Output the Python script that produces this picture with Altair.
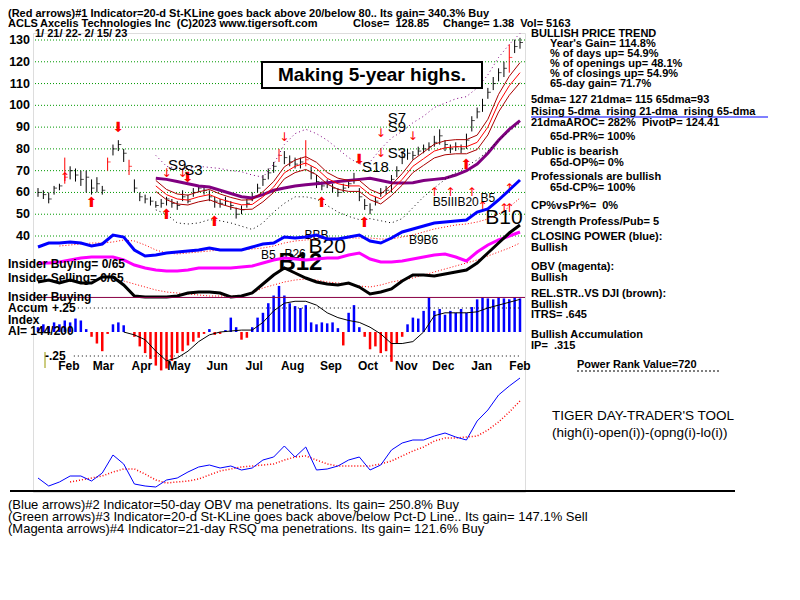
import altair as alt
import pandas as pd

START = pd.Timestamp("2022-01-21")
END = pd.Timestamp("2023-02-15")

# ---------------- price bars (evenly spaced sample of the daily bars) ----------------
close = [60, 59, 57, 62, 63, 67, 70, 68, 66, 67, 62, 64, 61, 74, 80, 82, 78, 72, 62, 58,
         57, 56, 54, 55, 57, 55, 54, 58, 56, 60, 62, 61, 58, 56, 55, 56, 54, 50, 52, 55,
         58, 62, 66, 69, 72, 77, 76, 74, 73, 74, 75, 69, 65, 63, 64, 62, 60, 62, 64, 66,
         58, 54, 52, 56, 60, 61, 66, 70, 76, 78, 77, 79, 80, 81, 83, 86, 82, 80, 81, 80,
         84, 93, 97, 100, 106, 110, 115, 117, 122, 127, 128.85]
high = [62, 61, 60, 63, 64, 76, 72, 71, 70, 70, 66, 67, 63, 76, 82, 84, 80, 75, 66, 60,
        59, 58, 56, 57, 58, 57, 56, 61, 59, 62, 63, 63, 61, 58, 57, 58, 56, 53, 54, 57,
        60, 64, 68, 71, 74, 80, 79, 77, 76, 76, 84, 72, 68, 65, 66, 64, 62, 64, 66, 69,
        62, 57, 55, 58, 62, 63, 68, 72, 79, 80, 79, 81, 82, 83, 86, 89, 84, 82, 83, 82,
        87, 95, 99, 103, 108, 113, 117, 120, 128, 130, 131]
low = [58, 57, 55, 59, 61, 64, 66, 65, 63, 60, 59, 60, 59, 70, 77, 79, 74, 68, 60, 56,
       55, 54, 53, 53, 54, 53, 52, 56, 55, 58, 60, 59, 56, 53, 53, 54, 52, 48, 50, 53,
       56, 60, 63, 66, 69, 74, 73, 72, 71, 71, 72, 66, 62, 61, 62, 60, 58, 60, 62, 64,
       56, 52, 50, 54, 58, 59, 60, 67, 73, 75, 75, 77, 78, 79, 81, 82, 79, 78, 79, 78,
       80, 88, 94, 97, 103, 107, 111, 113, 115, 124, 126]
red_bar_idx = [5, 13, 17, 45, 50, 88]

# ---------------- moving averages (every other bar, from mid-April) ----------------
ma21 = [63, 59, 57, 56.5, 58, 59, 57, 55.5, 54.3, 54.5, 58, 62.5, 69, 72, 73.5, 71, 66.5, 64,
        63, 63, 59, 57, 61, 66, 72, 75.5, 79, 80.5, 81, 81, 83, 90, 101, 109, 115]
ma65 = [66.5, 66, 65, 64, 63, 62.5, 61, 59.5, 58, 57.5, 59, 61, 62, 63, 63.5, 64, 64.5, 65,
        65.5, 66, 66.5, 65.5, 64.5, 64.3, 64.5, 65.5, 66, 66.5, 68, 70, 73, 78, 84, 89, 93]
band_upper = [77, 72, 71, 71, 72, 71.5, 71, 70, 69.5, 68, 67, 73, 82, 87, 89, 87, 84, 80, 76,
              73, 74, 80, 85, 88, 92, 95, 99, 101, 103, 104, 108, 114, 122, 128, 133]
band_lower = [52, 50, 46, 45.5, 46, 47.5, 47, 46, 44.5, 43, 46, 51, 55, 58, 58, 57, 54, 51, 49,
              47.5, 48, 47, 46, 48, 53, 58, 62, 66, 69, 72, 75, 79, 84, 88, 92]

# ---------------- indicators (every other bar) ----------------
closing_power = [3, 7, 7, 8, 7, 4, 6, 15, 13, 0, -6, -5, -3, -2, -1, 0, 2, 0, 0, 0, 3, 6, 7,
                 13, 12, 13, 15, 11, 11, 13, 15, 9, 7, 12, 18, 21, 24, 27, 28, 29, 30, 38, 41,
                 50, 60, 70]
closing_power_ma = [4, 5, 6, 7, 7, 8, 10, 9, 5, 0, -3, -4, -3, -2, -1, 0, 0, 0, 1, 2, 4, 7, 9,
                    10, 11, 12, 12, 12, 12, 12, 11, 11, 13, 15, 18, 21, 23, 25, 26, 28, 31, 36,
                    43, 52]
obv = [12, 12, 13, 15, 17, 18, 18, 18, 15, 10, 7, 5, 4, 4, 5, 7, 7, 7, 7, 8, 9, 12, 15, 17,
       16, 15, 16, 17, 17, 20, 22, 16, 13, 13, 14, 16, 18, 20, 21, 18, 14, 23, 30, 35, 39, 43]
rel_strength = [18, 20, 17, 20, 17, 17, 23, 23, 15, 4, 3, 3, 3, 4, 7, 8, 8, 7, 3, 4, 7, 16,
                25, 32, 27, 22, 18, 16, 15, 17, 13, 6, 8, 11, 19, 25, 25, 24, 26, 28, 30, 37,
                47, 57, 67, 75]
rel_strength_ma = [19, 16, 13, 10, 8, 7, 6, 5, 4, 4, 4, 4, 7, 12, 15, 18, 20, 21, 20, 18, 17,
                   16, 14, 13, 15, 18, 20, 22, 25, 28, 31, 34, 37, 40, 44, 48, 52, 57]
accum_ma = [0.0, -0.03, -0.08, -0.2, -0.3, -0.27, -0.2, -0.1, -0.03, 0.0, 0.01, 0.02, 0.02,
            0.1, 0.22, 0.3, 0.32, 0.32, 0.28, 0.2, 0.15, 0.12, 0.1, 0.05, -0.02, -0.12, -0.12,
            -0.1, 0.0, 0.17, 0.2, 0.2, 0.2, 0.21, 0.25, 0.28, 0.31, 0.34]
day_trader = [14, 6, 10, 16, 16, 11, 19, 37, 28, 8, 6, 5, 12, 14, 20, 25, 27, 24, 26, 22, 24,
              32, 35, 46, 35, 45, 22, 23, 26, 32, 35, 22, 27, 42, 49, 52, 52, 56, 59, 55, 52,
              71, 82, 97, 106, 114]
day_trader_ma = [10, 12, 14, 16, 20, 23, 23, 18, 12, 9, 10, 11, 13, 17, 21, 23, 25, 26, 27, 28,
                 32, 35, 36, 32, 28, 26, 26, 26, 26, 28, 31, 36, 41, 45, 51, 54, 54, 55, 56,
                 62, 70, 80, 91]

# accumulation index (every bar)
accum = [0.05, 0.08, 0.06, 0.10, 0.08, 0.12, 0.10, 0.14, 0.12, 0.03, -0.05, -0.12, -0.20,
         -0.02, 0.08, 0.10, 0.07, 0.00, -0.05, -0.15, -0.22, -0.28, -0.35, -0.40, -0.38,
         -0.30, -0.22, -0.20, -0.14, -0.10, -0.06, -0.02, 0.03, -0.03, -0.02, 0.02, 0.15,
         0.05, -0.08, -0.06, 0.05, 0.15, 0.20, 0.30, 0.38, 0.48, 0.38, 0.30, 0.27, 0.25, 0.28,
         0.10, 0.08, 0.10, 0.09, 0.10, 0.04, -0.14, 0.20, 0.28, 0.05, -0.05, -0.18, -0.15,
         -0.22, -0.20, -0.31, -0.12, -0.05, 0.08, 0.15, 0.14, 0.22, 0.36, 0.22, 0.24, 0.18,
         0.22, 0.20, 0.24, 0.20, 0.26, 0.34, 0.36, 0.35, 0.34, 0.36, 0.35, 0.34, 0.36, 0.35]

price_ticks = [40, 50, 60, 70, 80, 90, 100, 110, 120, 130]
month_names = ["Feb", "Mar", "Apr", "May", "Jun", "Jul", "Aug", "Sep", "Oct", "Nov", "Dec",
               "Jan", "Feb"]
month_mid = ["2022-02-15", "2022-03-15", "2022-04-15", "2022-05-15", "2022-06-15",
             "2022-07-15", "2022-08-15", "2022-09-15", "2022-10-15", "2022-11-15",
             "2022-12-15", "2023-01-15", "2023-02-15"]

# signals: bar index, price level
thick_up_idx, thick_up_px = [10, 24, 33, 53, 61, 80], [55, 49.6, 46.4, 55, 46, 72.6]
thick_dn_idx, thick_dn_px = [15, 28, 60], [89.5, 66.6, 75]
thin_up_idx, thin_up_px = [5, 74, 77, 81, 83, 87, 88, 88], [67, 60, 60, 60, 54, 53, 53, 62]
thin_dn_idx, thin_dn_px = [24, 27, 46, 64, 64, 70], [69, 69, 85.4, 87.2, 78, 86]
sig_small_idx = [26, 29, 63, 67, 67, 67]
sig_small_px = [72.6, 70.3, 71.6, 94, 90, 78]
sig_small_txt = ["S9", "S3", "S18", "S7", "S9", "S3"]
sig_tiny_idx = [78, 84, 43, 48, 52, 72]
sig_tiny_px = [55.6, 57.4, 31.3, 31.7, 40.5, 38.2]
sig_tiny_txt = ["B5IIIB20", "B5", "B5", "B26", "BBB", "B9B6"]
sig_big_idx, sig_big_px, sig_big_txt = [54, 87], [35, 48.3], ["B20", "B10"]
sig_bold_idx, sig_bold_px, sig_bold_txt = [49], [27.6], ["B12"]

header1 = "(Red arrows)#1 Indicator=20-d St-KLine goes back above 20/below 80.. Its gain= 340.3% Buy"
header2 = ["ACLS", "Axcelis Technologies Inc\u00a0 (C)2023 www.tigersoft.com", "Close=\u00a0 128.85",
           "Change= 1.38\u00a0 Vol= 5163"]
header3 = "1/ 21/ 22- 2/ 15/ 23"
side_blocks = [
    (531, 33, ["BULLISH PRICE TREND"], None),
    (550, 43, ["Year's Gain= 114.8%", "% of days up= 54.9%", "% of openings up= 48.1%",
               "% of closings up= 54.9%", "65-day gain= 71.7%"], 10),
    (531, 99, ["5dma= 127 21dma= 115 65dma=93", "Rising 5-dma\u00a0 rising 21-dma\u00a0 rising 65-dma",
               "21dmaAROC= 282%\u00a0 PivotP= 124.41"], 11.5),
    (550, 136, ["65d-PR%= 100%"], None),
    (531, 151, ["Public is bearish"], None),
    (550, 162, ["65d-OP%= 0%"], None),
    (531, 176, ["Professionals are bullish"], None),
    (550, 187, ["65d-CP%= 100%"], None),
    (531, 205, ["CP%vsPr%=\u00a0 0%"], None),
    (531, 221, ["Strength Profess/Pub= 5"], None),
    (531, 236, ["CLOSING POWER (blue):", "Bullish"], 11),
    (531, 266, ["OBV (magenta):", "Bullish"], 10.5),
    (531, 293, ["REL.STR..VS DJI (brown):", "Bullish", "ITRS= .645"], 10.5),
    (531, 334, ["Bullish Accumulation", "IP=\u00a0 .315"], 11),
    (577, 364, ["Power Rank Value=720"], None),
]
left_labels = [(8, 264, "Insider Buying= 0/65"), (8, 278, "Insider Selling= 0/65"),
               (8, 297, "Insider Buying"), (8, 308, "Accum"), (52, 308, "+.25"),
               (8, 320, "Index"), (8, 331, "AI= 144/200"), (45, 356, "-.25")]
footer = ["(Blue arrows)#2 Indicator=50-day OBV ma penetrations. Its gain= 250.8% Buy",
          "(Green arrows)#3 Indicator=20-d St-KLine goes back above/below Pct-D Line.. Its gain= 147.1% Sell",
          "(Magenta arrows)#4 Indicator=21-day RSQ ma penetrations. Its gain= 121.6% Buy"]
tool_title = ["TIGER DAY-TRADER'S TOOL", "(high(i)-open(i))-(opng(i)-lo(i))"]
banner = "Making 5-year highs."

# ---------------- frames ----------------
FONT = "Liberation Sans"

dates = pd.date_range(START, END, periods=len(close))
px = pd.DataFrame({"date": dates, "close": close, "high": high, "low": low})
px["red"] = [i in red_bar_idx for i in range(len(close))]
g = dates[::2]


def pad(vals):
    return [None] * (len(g) - len(vals)) + list(vals)


ind = pd.DataFrame({"date": g, "cp": closing_power, "cp_ma": pad(closing_power_ma), "obv": obv,
                    "rs": rel_strength, "rs_ma": pad(rel_strength_ma), "ai_ma": pad(accum_ma),
                    "dt": day_trader, "dt_ma": pad(day_trader_ma), "ma21": pad(ma21),
                    "ma65": pad(ma65), "bbu": pad(band_upper), "bbl": pad(band_lower)})
ai_df = pd.DataFrame({"date": dates, "ai": accum})


def R(v):  # reference pixel -> plot coordinate
    return v - 33


xscale = alt.Scale(domain=[alt.DateTime(year=2022, month=1, date=21),
                           alt.DateTime(year=2023, month=2, date=15)], nice=False)
X = alt.X("date:T", scale=xscale, axis=None)


def S(d0, d1, r0, r1):
    return alt.Scale(domain=[d0, d1], range=[R(r0), R(r1)], nice=False, zero=False)


PS = S(40, 130, 236, 40)
CPS = S(-10, 80, 260, 170)
OBS = S(0, 50, 275, 225)
RSS = S(0, 100, 300, 200)
AIS = S(-0.5, 0.5, 380, 284)
DTS = S(0, 120, 492, 372)


def Yq(field, scale):
    return alt.Y(field, type="quantitative", scale=scale, axis=None)


layers = []
ticks_df = pd.DataFrame({"p": price_ticks})
layers.append(alt.Chart(ticks_df).mark_rule(color="#009900", strokeWidth=1, strokeDash=[1, 2]).encode(
    y=Yq("p", PS)))
layers.append(alt.Chart(ticks_df).mark_text(align="right", baseline="middle", font=FONT, fontSize=12.5,
                                            fontWeight="bold", color="black").encode(
    x=alt.value(R(30)), y=Yq("p", PS), text="p:Q"))

layers.append(alt.Chart(px).mark_rule(strokeWidth=1).encode(
    x=X, y=Yq("low", PS), y2="high:Q",
    color=alt.condition("datum.red", alt.value("#ff0000"), alt.value("black"))))
layers.append(alt.Chart(px).mark_tick(orient="horizontal", size=3, thickness=1, xOffset=1.5).encode(
    x=X, y=Yq("close", PS),
    color=alt.condition("datum.red", alt.value("#ff0000"), alt.value("black"))))

base_ma = alt.Chart(ind)
layers.append(base_ma.mark_line(color="#800080", strokeWidth=3).encode(x=X, y=Yq("ma65", PS)))
layers.append(base_ma.mark_line(color="#ff0000", strokeWidth=1).encode(x=X, y=Yq("ma21", PS)))
layers.append(base_ma.transform_calculate(u="datum.ma21 == null ? null : datum.ma21 * 1.04").mark_line(
    color="#aa0000", strokeWidth=1).encode(x=X, y=Yq("u", PS)))
layers.append(base_ma.transform_calculate(l="datum.ma21 == null ? null : datum.ma21 * 0.96").mark_line(
    color="#aa0000", strokeWidth=1).encode(x=X, y=Yq("l", PS)))
layers.append(base_ma.mark_line(color="#800080", strokeWidth=1, strokeDash=[1, 3]).encode(x=X, y=Yq("bbu", PS)))
layers.append(base_ma.mark_line(color="black", strokeWidth=1, strokeDash=[1, 3]).encode(x=X, y=Yq("bbl", PS)))


def sig(idx, prices, texts, size, weight="normal", color="black", font=FONT):
    df = pd.DataFrame({"date": [dates[i] for i in idx], "p": prices, "t": texts})
    return alt.Chart(df).mark_text(fontSize=size, fontWeight=weight, color=color, font=font,
                                   baseline="middle", align="center").encode(
        x=X, y=Yq("p", PS), text="t:N")


layers.append(sig(thick_up_idx, thick_up_px, ["\u2b06"] * len(thick_up_idx), 14, color="#ff0000", font="DejaVu Sans"))
layers.append(sig(thick_dn_idx, thick_dn_px, ["\u2b07"] * len(thick_dn_idx), 14, color="#ff0000", font="DejaVu Sans"))
layers.append(sig(thin_up_idx, thin_up_px, ["\u2191"] * len(thin_up_idx), 12, color="#ff0000", font="DejaVu Sans"))
layers.append(sig(thin_dn_idx, thin_dn_px, ["\u2193"] * len(thin_dn_idx), 12, color="#ff0000", font="DejaVu Sans"))
layers.append(sig(sig_small_idx, sig_small_px, sig_small_txt, 15))
layers.append(sig(sig_tiny_idx, sig_tiny_px, sig_tiny_txt, 12))
layers.append(sig(sig_big_idx, sig_big_px, sig_big_txt, 21))
layers.append(sig(sig_bold_idx, sig_bold_px, sig_bold_txt, 24, weight="bold"))

# indicators
layers.append(alt.Chart(ind).mark_line(color="#ff0000", strokeWidth=1, strokeDash=[1, 2]).encode(x=X, y=Yq("cp_ma", CPS)))
layers.append(alt.Chart(ind).mark_line(color="#0000ff", strokeWidth=3).encode(x=X, y=Yq("cp", CPS)))
layers.append(alt.Chart(ind).mark_line(color="#ff00ff", strokeWidth=3).encode(x=X, y=Yq("obv", OBS)))
layers.append(alt.Chart(ind).mark_line(color="#ff0000", strokeWidth=1, strokeDash=[1, 2]).encode(x=X, y=Yq("rs_ma", RSS)))
layers.append(alt.Chart(ind).mark_line(color="black", strokeWidth=3).encode(x=X, y=Yq("rs", RSS)))

# accumulation index
layers.append(alt.Chart(ai_df).mark_bar(size=2.5).encode(
    x=X, y=Yq("ai", AIS), y2=alt.datum(0),
    color=alt.condition("datum.ai > 0", alt.value("#0000ff"), alt.value("#ff0000"))))
layers.append(alt.Chart(ind).mark_line(color="black", strokeWidth=1).encode(x=X, y=Yq("ai_ma", AIS)))
layers.append(alt.Chart(pd.DataFrame({"v": [0.36]})).mark_rule(color="#880044", strokeWidth=1).encode(
    y=Yq("v", AIS)))
layers.append(alt.Chart(pd.DataFrame({"v": [0.25, -0.25], "d0": [pd.Timestamp("2022-02-19")] * 2,
                                      "d1": [END] * 2})).mark_rule(
    color="black", strokeWidth=1, strokeDash=[1, 3]).encode(
    x=alt.X("d0:T", scale=xscale, axis=None), x2="d1:T", y=Yq("v", AIS)))

# day trader tool
layers.append(alt.Chart(ind).mark_line(color="#ff0000", strokeWidth=1.5, strokeDash=[1, 2]).encode(x=X, y=Yq("dt_ma", DTS)))
layers.append(alt.Chart(ind).mark_line(color="#0000ff", strokeWidth=1).encode(x=X, y=Yq("dt", DTS)))

# month labels
months = pd.DataFrame({"date": pd.to_datetime(month_mid), "m": month_names})
layers.append(alt.Chart(months).mark_text(font=FONT, fontSize=12, fontWeight="bold", baseline="middle").encode(
    x=X, y=alt.value(R(366)), text="m:N"))

# annotation rules and box
one = pd.DataFrame({"a": [0]})
layers.append(alt.Chart(one).mark_rule(color="black", strokeWidth=2).encode(
    x=alt.value(R(10)), x2=alt.value(R(735)), y=alt.value(R(491))))
layers.append(alt.Chart(one).mark_rule(color="#0000ff", strokeWidth=1).encode(
    x=alt.value(R(531)), x2=alt.value(R(768)), y=alt.value(R(117))))
layers.append(alt.Chart(one).mark_rule(color="black", strokeWidth=1, strokeDash=[2, 2]).encode(
    x=alt.value(R(577)), x2=alt.value(R(720)), y=alt.value(R(371))))
layers.append(alt.Chart(one).mark_rule(color="#999900", strokeWidth=1).encode(
    x=alt.value(R(45)), y=alt.value(R(352)), y2=alt.value(R(368))))
layers.append(alt.Chart(one).mark_rect(fill="white", stroke="black", strokeWidth=2).encode(
    x=alt.value(R(262)), x2=alt.value(R(482)), y=alt.value(R(62)), y2=alt.value(R(88))))


def txt(lines, x, y, size=11, weight="bold", font=FONT, color="black", align="left", lh=None):
    df = pd.DataFrame({"t": ["\n".join(lines)]})
    kw = dict(align=align, baseline="top", fontSize=size, fontWeight=weight, font=font,
              color=color, lineBreak="\n")
    if lh:
        kw["lineHeight"] = lh
    return alt.Chart(df).mark_text(**kw).encode(x=alt.value(R(x)), y=alt.value(R(y) - 0.45 * size),
                                                text="t:N")


layers.append(txt([banner], 372, 75, size=19, align="center"))
layers.append(txt([header1], 8, 13))
layers.append(txt([header2[0]], 8, 23))
layers.append(txt([header2[1]], 40, 23))
layers.append(txt([header2[2]], 353, 23))
layers.append(txt([header2[3]], 443, 23))
layers.append(txt([header3], 35, 33))
for bx, by, lines, lh in side_blocks:
    layers.append(txt(lines, bx, by, lh=lh))
for lx, ly, t in left_labels:
    layers.append(txt([t], lx, ly, size=12))
layers.append(txt(tool_title, 552, 415, size=13.5, weight="normal", lh=17))
layers.append(txt(footer, 8, 505, size=13, weight="normal", lh=12))

chart = alt.layer(*layers).properties(
    width=492, height=459,
    padding={"left": 25, "top": 25, "right": 267, "bottom": 100},
    autosize=alt.AutoSizeParams(type="none"),
).resolve_scale(y="independent").configure_view(stroke=None).configure(background="white")

chart.save("out.html", embed_options={"renderer": "svg", "actions": False})
